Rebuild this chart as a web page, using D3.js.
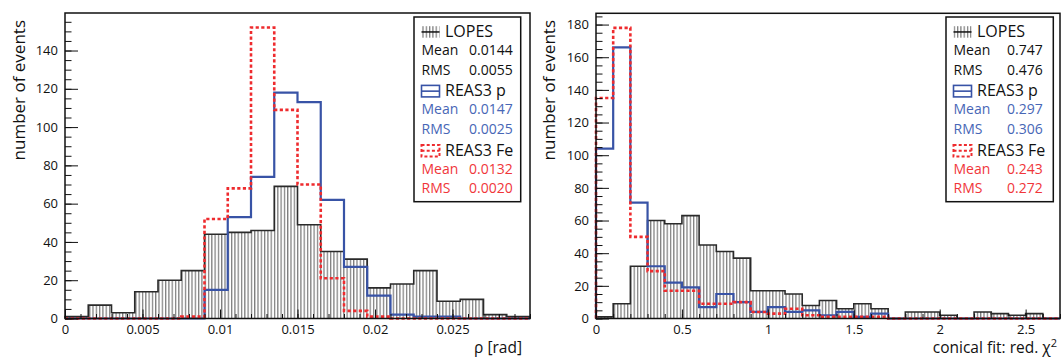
<!DOCTYPE html>
<html><head><meta charset="utf-8">
<script src="https://cdn.jsdelivr.net/npm/d3@7"></script>
<style>
body{margin:0;background:#fff}
svg text{font-family:"Open Sans",sans-serif}
</style>
</head><body>
<svg id="c" width="1061" height="358"></svg>
<script>
// ---------- data ----------
const rhoBinWidth = 0.0015;
const rhoLopes = [1, 7, 3, 14, 20, 25, 44, 45, 46, 69, 49, 35, 31, 16, 18, 25, 9, 10, 2, 1];
const rhoReasP = [0, 0, 0, 0, 0, 0, 15, 53, 74, 118, 113, 62, 27, 12, 2, 1, 1, 0, 0, 0];
const rhoReasFe = [0, 0, 0, 0, 0, 1, 52, 68, 152, 109, 70, 21, 4, 1, 0, 0, 0, 0, 0, 0];
const rhoXTicks = [0, 0.005, 0.01, 0.015, 0.02, 0.025];
const rhoXTickLabels = ["0", "0.005", "0.01", "0.015", "0.02", "0.025"];
const rhoYTicks = [0, 20, 40, 60, 80, 100, 120, 140];

const chiBinWidth = 0.1;
const chiLopes = [1, 9, 32, 60, 58, 63, 45, 41, 37, 17, 17, 15, 8, 11, 6, 9, 6, 0, 4, 4, 2, 0, 4, 3, 2, 3, 0];
const chiReasP = [104, 166, 71, 32, 22, 19, 7, 15, 10, 4, 7, 4, 5, 2, 4, 1, 3, 0, 0, 0, 0, 0, 0, 0, 0, 0, 0];
const chiReasFe = [135, 178, 50, 29, 17, 17, 9, 9, 10, 4, 3, 6, 2, 1, 1, 1, 1, 0, 0, 0, 0, 0, 0, 0, 0, 0, 0];
const chiXTicks = [0, 0.5, 1, 1.5, 2, 2.5];
const chiXTickLabels = ["0", "0.5", "1", "1.5", "2", "2.5"];
const chiYTicks = [0, 20, 40, 60, 80, 100, 120, 140, 160, 180];

const seriesNames = ["LOPES", "REAS3 p", "REAS3 Fe"];
const rhoMeans = ["0.0144", "0.0147", "0.0132"];
const rhoRms = ["0.0055", "0.0025", "0.0020"];
const chiMeans = ["0.747", "0.297", "0.243"];
const chiRms = ["0.476", "0.306", "0.272"];

// ---------- style ----------
const BLUE = "#3853a6", BLUE_TXT = "#4766b6", RED = "#ee2b2e", RED_TXT = "#f0363a", GREY = "#7d7d7d";

const svg = d3.select("#c");
const defs = svg.append("defs");
const pat = defs.append("pattern").attr("id", "hatch").attr("patternUnits", "userSpaceOnUse")
  .attr("width", 3.3).attr("height", 20);
pat.append("rect").attr("x", 0).attr("y", 0).attr("width", 1.25).attr("height", 20).attr("fill", GREY);

function panel(cfg) {
  const n = cfg.lopes.length;
  const maxV = d3.max([...cfg.lopes, ...cfg.p, ...cfg.fe]);
  const x = d3.scaleLinear().domain([0, n * cfg.bw]).range([cfg.x0, cfg.x1]);
  const y = d3.scaleLinear().domain([0, maxV * 1.05]).range([cfg.yb, cfg.yt]);
  const g = svg.append("g");

  const pts = vals => [[0, 0], ...vals.map((v, i) => [i * cfg.bw, v]), [n * cfg.bw, vals[n - 1]], [n * cfg.bw, 0]];
  const line = d3.line().x(d => x(d[0])).y(d => y(d[1])).curve(d3.curveStepAfter);
  const area = d3.area().x(d => x(d[0])).y0(y(0)).y1(d => y(d[1])).curve(d3.curveStepAfter);

  g.append("path").attr("d", area(pts(cfg.lopes))).attr("fill", "url(#hatch)");
  g.append("path").attr("d", line(pts(cfg.lopes))).attr("fill", "none").attr("stroke", "#2a2a2a").attr("stroke-width", 1.6);
  g.append("path").attr("d", line(pts(cfg.p))).attr("fill", "none").attr("stroke", BLUE).attr("stroke-width", 2.2);
  g.append("path").attr("d", line(pts(cfg.fe))).attr("fill", "none").attr("stroke", RED).attr("stroke-width", 2.6)
    .attr("stroke-dasharray", "3.2,2.4");

  // axes (ticks inside)
  const yMaj = d3.axisLeft(y).tickValues(cfg.yTicks).tickSize(-13).tickPadding(7).tickFormat(d3.format("d"));
  const yMinVals = d3.range(0, maxV * 1.05, 5);
  const yMin = d3.axisLeft(y).tickValues(yMinVals).tickSize(-6.5).tickFormat("");
  const xMaj = d3.axisBottom(x).tickValues(cfg.xTicks).tickSize(-9).tickPadding(6)
    .tickFormat((d, i) => cfg.xTickLabels[i]);
  const xMinVals = d3.range(0, n * cfg.bw + 1e-9, cfg.xMinor);
  const xMin = d3.axisBottom(x).tickValues(xMinVals).tickSize(-4.5).tickFormat("");

  const ay = g.append("g").attr("transform", `translate(${cfg.x0},0)`);
  ay.call(yMin); ay.append("g").call(yMaj);
  const ax = g.append("g").attr("transform", `translate(0,${cfg.yb})`);
  ax.call(xMin); ax.append("g").call(xMaj);
  g.selectAll(".domain").remove();
  g.selectAll(".tick line").attr("stroke", "#111").attr("stroke-width", 1);
  g.selectAll(".tick text").attr("font-size", 13).attr("fill", "#111").style("font-family", '"Open Sans",sans-serif');

  // frame
  g.append("rect").attr("x", cfg.x0).attr("y", cfg.yt).attr("width", cfg.x1 - cfg.x0).attr("height", cfg.yb - cfg.yt)
    .attr("fill", "none").attr("stroke", "#111").attr("stroke-width", 1.5);

  // axis titles
  g.append("text").attr("transform", `translate(${cfg.ytX},20) rotate(-90)`).attr("text-anchor", "end")
    .attr("font-size", 17).attr("fill", "#111").text("number of events");
  const xt = g.append("text").attr("x", cfg.xtX).attr("y", 353).attr("text-anchor", "end")
    .attr("font-size", 15.5).attr("fill", "#111");
  xt.append("tspan").text(cfg.xTitle);
  if (cfg.xSup) xt.append("tspan").attr("dy", -6).attr("font-size", 11).text(cfg.xSup);

  // legend
  const L = cfg.leg;
  const lg = g.append("g");
  lg.append("rect").attr("x", L.x0).attr("y", 17).attr("width", L.x1 - L.x0).attr("height", 184.7)
    .attr("fill", "#fff").attr("stroke", "#111").attr("stroke-width", 1.5);
  const colors = ["#111", BLUE_TXT, RED_TXT];
  const groupBase = [36.7, 95.9, 155.5];
  seriesNames.forEach((name, k) => {
    const b = groupBase[k];
    const sx = L.x0 + 7.5, sw = 18, sy = b - 10.5, sh = 11.5;
    if (k === 0) {
      lg.append("rect").attr("x", sx).attr("y", sy).attr("width", sw).attr("height", sh).attr("fill", "url(#hatch)");
      lg.append("line").attr("x1", sx).attr("x2", sx + sw).attr("y1", sy + sh / 2).attr("y2", sy + sh / 2)
        .attr("stroke", "#111").attr("stroke-width", 1.5);
    } else {
      const c = k === 1 ? BLUE : RED;
      const dash = k === 2 ? "3,2.2" : null;
      lg.append("rect").attr("x", sx).attr("y", sy).attr("width", sw).attr("height", sh).attr("fill", "none")
        .attr("stroke", c).attr("stroke-width", k === 2 ? 2 : 1.6).attr("stroke-dasharray", dash);
      lg.append("line").attr("x1", sx).attr("x2", sx + sw).attr("y1", sy + sh / 2).attr("y2", sy + sh / 2)
        .attr("stroke", c).attr("stroke-width", k === 2 ? 2 : 1.6).attr("stroke-dasharray", dash);
    }
    lg.append("text").attr("x", sx + sw + 5.5).attr("y", b).attr("font-size", 16).attr("fill", "#111").text(name);
    [["Mean", cfg.means[k]], ["RMS", cfg.rms[k]]].forEach((row, j) => {
      const yy = b + 18.5 + j * 19.3;
      lg.append("text").attr("x", sx).attr("y", yy).attr("font-size", 14).attr("fill", colors[k]).text(row[0]);
      lg.append("text").attr("x", L.valX).attr("y", yy).attr("text-anchor", "end").attr("font-size", 14)
        .attr("fill", colors[k]).text(row[1]);
    });
  });
}

panel({
  lopes: rhoLopes, p: rhoReasP, fe: rhoReasFe, bw: rhoBinWidth,
  x0: 65, x1: 530, yb: 318.5, yt: 13,
  xTicks: rhoXTicks, xTickLabels: rhoXTickLabels, yTicks: rhoYTicks, xMinor: 0.001,
  ytX: 25, xtX: 522, xTitle: "ρ [rad]", xSup: null,
  leg: {x0: 414, x1: 520.7, valX: 512.7}, means: rhoMeans, rms: rhoRms
});
panel({
  lopes: chiLopes, p: chiReasP, fe: chiReasFe, bw: chiBinWidth,
  x0: 596, x1: 1060, yb: 318.5, yt: 13.3,
  xTicks: chiXTicks, xTickLabels: chiXTickLabels, yTicks: chiYTicks, xMinor: 0.1,
  ytX: 555, xtX: 1057, xTitle: "conical fit: red. χ", xSup: "2",
  leg: {x0: 946, x1: 1053.3, valX: 1042.7}, means: chiMeans, rms: chiRms
});
</script>
</body></html>
